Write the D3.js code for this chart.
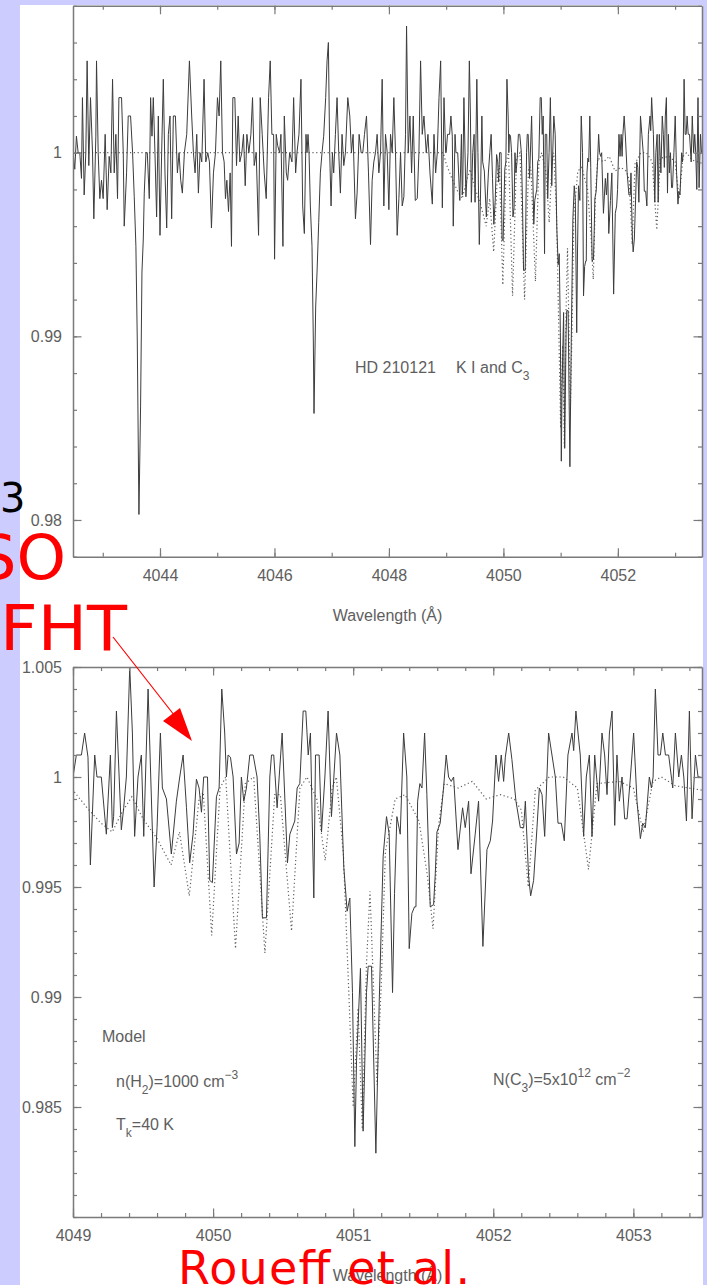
<!DOCTYPE html>
<html>
<head>
<meta charset="utf-8">
<script src="https://cdn.jsdelivr.net/npm/d3@7"></script>
<style>
  html, body { margin: 0; padding: 0; background: #ccccff; }
  svg { display: block; }
</style>
</head>
<body>
<svg id="fig" width="707" height="1285"></svg>
<script>
// Observed spectrum of HD 210121: [wavelength (Å), normalised flux]
const observedSpectrum = [
  [4042.482,1.0000],[4042.511,0.9991],[4042.540,1.0009],[4042.570,1.0000],[4042.599,1.0000],[4042.628,0.9986],
  [4042.645,1.0030],[4042.675,0.9977],[4042.704,1.0000],[4042.727,1.0050],[4042.756,0.9993],[4042.786,1.0030],
  [4042.821,1.0000],[4042.844,0.9964],[4042.879,1.0009],[4042.891,1.0050],[4042.920,1.0000],[4042.949,0.9975],
  [4042.978,0.9985],[4043.007,0.9975],[4043.042,1.0010],[4043.077,0.9969],[4043.112,0.9998],[4043.142,0.9989],
  [4043.171,1.0040],[4043.200,0.9989],[4043.229,1.0010],[4043.258,0.9975],[4043.282,1.0030],[4043.328,1.0030],
  [4043.358,1.0000],[4043.375,0.9960],[4043.416,0.9989],[4043.445,1.0020],[4043.486,1.0020],[4043.521,1.0000],
  [4043.550,0.9976],[4043.579,0.9949],[4043.603,0.9898],[4043.632,0.9803],[4043.661,0.9862],[4043.685,0.9935],
  [4043.708,0.9953],[4043.725,0.9978],[4043.755,1.0000],[4043.778,1.0000],[4043.813,0.9975],[4043.836,1.0030],
  [4043.860,1.0009],[4043.883,1.0030],[4043.912,1.0000],[4043.941,0.9965],[4043.971,1.0020],[4044.000,0.9955],
  [4044.029,1.0000],[4044.058,1.0040],[4044.087,0.9989],[4044.117,0.9959],[4044.146,1.0010],[4044.175,1.0020],
  [4044.204,0.9964],[4044.233,1.0020],[4044.269,1.0020],[4044.304,0.9989],[4044.333,1.0000],[4044.362,0.9985],
  [4044.391,0.9978],[4044.426,1.0000],[4044.467,1.0010],[4044.514,1.0050],[4044.554,1.0020],[4044.584,1.0000],
  [4044.613,0.9989],[4044.642,1.0010],[4044.671,0.9978],[4044.700,1.0000],[4044.730,0.9995],[4044.770,1.0040],
  [4044.800,0.9995],[4044.835,1.0000],[4044.864,0.9995],[4044.899,0.9959],[4044.934,0.9989],[4044.969,1.0000],
  [4045.004,1.0030],[4045.033,1.0020],[4045.062,1.0050],[4045.092,1.0000],[4045.121,0.9995],[4045.144,0.9975],
  [4045.168,0.9985],[4045.197,0.9968],[4045.226,0.9989],[4045.249,0.9949],[4045.273,1.0030],[4045.308,1.0030],
  [4045.337,0.9993],[4045.366,1.0020],[4045.395,0.9995],[4045.430,1.0000],[4045.459,1.0010],[4045.489,0.9982],
  [4045.518,1.0010],[4045.553,1.0000],[4045.588,1.0010],[4045.617,1.0030],[4045.646,0.9993],[4045.681,1.0000],
  [4045.722,0.9955],[4045.751,1.0030],[4045.786,1.0010],[4045.821,0.9989],[4045.856,0.9975],[4045.897,1.0030],
  [4045.926,1.0050],[4045.955,1.0010],[4045.985,1.0010],[4046.002,0.9942],[4046.031,1.0010],[4046.055,1.0004],
  [4046.090,1.0000],[4046.113,1.0010],[4046.148,0.9949],[4046.172,1.0020],[4046.207,0.9989],[4046.230,0.9985],
  [4046.265,1.0000],[4046.306,0.9995],[4046.335,1.0030],[4046.370,0.9989],[4046.393,1.0000],[4046.428,1.0010],
  [4046.463,1.0040],[4046.493,0.9971],[4046.522,0.9956],[4046.551,1.0010],[4046.569,1.0000],[4046.586,1.0010],
  [4046.604,1.0000],[4046.627,0.9971],[4046.656,0.9949],[4046.679,0.9898],[4046.691,0.9858],[4046.720,0.9916],
  [4046.744,0.9935],[4046.773,0.9962],[4046.802,0.9989],[4046.831,1.0000],[4046.860,1.0009],[4046.895,1.0030],
  [4046.919,1.0050],[4046.942,1.0060],[4046.965,1.0000],[4046.989,0.9971],[4047.012,1.0000],[4047.035,0.9989],
  [4047.065,1.0010],[4047.094,1.0030],[4047.123,1.0000],[4047.152,0.9978],[4047.181,1.0010],[4047.211,0.9993],
  [4047.240,1.0000],[4047.281,1.0030],[4047.316,1.0020],[4047.345,1.0000],[4047.374,1.0010],[4047.415,0.9964],
  [4047.444,0.9978],[4047.479,1.0010],[4047.514,1.0000],[4047.543,1.0000],[4047.573,1.0010],[4047.608,1.0020],
  [4047.643,0.9989],[4047.678,0.9950],[4047.707,0.9985],[4047.736,0.9995],[4047.765,1.0000],[4047.794,1.0010],
  [4047.824,0.9989],[4047.853,1.0000],[4047.882,1.0040],[4047.911,0.9971],[4047.940,1.0010],[4047.970,1.0000],
  [4047.999,0.9969],[4048.028,1.0010],[4048.057,1.0000],[4048.086,1.0030],[4048.115,1.0000],[4048.144,0.9955],
  [4048.174,0.9975],[4048.203,1.0000],[4048.232,0.9971],[4048.261,0.9976],[4048.290,1.0010],[4048.308,1.0069],
  [4048.337,1.0000],[4048.367,1.0020],[4048.396,0.9989],[4048.425,1.0020],[4048.460,0.9974],[4048.495,0.9975],
  [4048.524,1.0000],[4048.553,1.0050],[4048.582,1.0010],[4048.612,1.0020],[4048.652,1.0000],[4048.682,1.0010],
  [4048.717,0.9989],[4048.758,0.9972],[4048.787,1.0010],[4048.816,0.9989],[4048.845,1.0000],[4048.875,1.0030],
  [4048.904,1.0050],[4048.933,0.9970],[4048.962,1.0030],[4048.991,1.0000],
  [4049.000,1.0000],[4049.024,1.0010],[4049.060,1.0010],[4049.083,1.0020],[4049.107,1.0009],[4049.124,0.9960],
  [4049.155,1.0010],[4049.171,1.0000],[4049.202,1.0000],[4049.238,0.9974],[4049.267,1.0010],[4049.281,0.9977],
  [4049.290,0.9982],[4049.310,1.0030],[4049.345,0.9976],[4049.362,0.9986],[4049.381,1.0000],[4049.405,1.0050],
  [4049.424,1.0020],[4049.440,0.9973],[4049.464,1.0000],[4049.488,1.0010],[4049.505,0.9973],[4049.536,1.0040],
  [4049.555,1.0000],[4049.579,0.9950],[4049.600,0.9977],[4049.624,1.0020],[4049.638,0.9995],[4049.667,0.9990],
  [4049.702,0.9965],[4049.738,0.9989],[4049.762,1.0000],[4049.786,1.0010],[4049.810,0.9986],[4049.833,0.9961],
  [4049.857,0.9974],[4049.881,0.9999],[4049.900,0.9995],[4049.917,0.9984],[4049.933,1.0000],[4049.960,1.0000],
  [4049.976,0.9953],[4049.995,0.9952],[4050.024,0.9991],[4050.043,0.9995],[4050.062,1.0040],[4050.083,1.0020],
  [4050.095,1.0000],[4050.107,1.0010],[4050.124,1.0009],[4050.143,1.0000],[4050.167,0.9965],[4050.186,0.9970],
  [4050.202,1.0000],[4050.219,0.9989],[4050.238,0.9995],[4050.262,1.0010],[4050.286,1.0010],[4050.314,1.0000],
  [4050.333,0.9974],[4050.352,0.9936],[4050.381,0.9936],[4050.405,1.0000],[4050.417,1.0010],[4050.433,1.0010],
  [4050.457,0.9986],[4050.493,1.0020],[4050.531,0.9961],[4050.548,0.9974],[4050.583,0.9980],[4050.600,0.9995],
  [4050.619,0.9997],[4050.643,1.0030],[4050.662,1.0030],[4050.679,1.0010],[4050.695,1.0020],[4050.719,0.9945],
  [4050.731,1.0010],[4050.757,1.0010],[4050.774,0.9975],[4050.798,1.0000],[4050.821,1.0030],[4050.845,0.9982],
  [4050.881,1.0020],[4050.905,1.0010],[4050.933,0.9959],[4050.957,0.9939],[4050.976,0.9945],[4050.995,0.9902],
  [4051.012,0.9832],[4051.024,0.9871],[4051.052,0.9913],[4051.071,0.9839],[4051.095,0.9902],[4051.107,0.9914],
  [4051.131,0.9914],[4051.162,0.9829],[4051.186,0.9898],[4051.214,0.9964],[4051.238,0.9982],[4051.257,0.9974],
  [4051.281,0.9902],[4051.295,0.9947],[4051.312,0.9982],[4051.336,0.9974],[4051.360,1.0020],[4051.383,1.0000],
  [4051.400,0.9922],[4051.419,0.9938],[4051.438,0.9941],[4051.448,0.9941],[4051.460,0.9989],[4051.476,0.9997],
  [4051.491,0.9995],[4051.510,1.0020],[4051.526,0.9992],[4051.550,0.9941],[4051.574,0.9942],[4051.586,0.9956],
  [4051.598,0.9975],[4051.621,0.9979],[4051.645,0.9995],[4051.664,1.0010],[4051.681,1.0000],[4051.700,0.9998],
  [4051.717,1.0000],[4051.748,0.9967],[4051.781,0.9986],[4051.800,0.9977],[4051.824,0.9989],[4051.841,0.9956],
  [4051.871,0.9974],[4051.895,0.9989],[4051.926,0.9923],[4051.955,0.9967],[4051.979,0.9971],[4051.995,0.9980],
  [4052.019,1.0010],[4052.038,0.9998],[4052.057,1.0010],[4052.074,0.9998],[4052.086,1.0009],[4052.110,1.0020],
  [4052.133,1.0008],[4052.162,0.9989],[4052.193,0.9977],[4052.217,0.9977],[4052.229,0.9989],[4052.252,0.9955],
  [4052.267,0.9946],[4052.288,0.9953],[4052.312,0.9977],[4052.329,0.9995],[4052.348,0.9992],[4052.367,0.9973],
  [4052.395,1.0020],[4052.419,1.0010],[4052.443,1.0000],[4052.462,0.9979],[4052.486,0.9979],[4052.507,0.9971],
  [4052.533,1.0010],[4052.562,1.0020],[4052.574,1.0012],[4052.590,1.0030],[4052.605,1.0020],[4052.621,1.0010],
  [4052.645,0.9973],[4052.664,1.0000],[4052.686,1.0010],[4052.705,0.9973],[4052.724,1.0010],[4052.752,0.9989],
  [4052.776,1.0020],[4052.795,1.0010],[4052.812,0.9992],[4052.829,1.0020],[4052.848,1.0030],[4052.867,0.9978],
  [4052.883,1.0010],[4052.900,0.9989],[4052.919,1.0000],[4052.938,0.9981],[4052.955,0.9981],[4052.979,1.0000],
  [4053.002,1.0020],[4053.026,0.9989],[4053.050,0.9972],[4053.067,0.9979],[4053.086,0.9977],[4053.114,1.0000],
  [4053.129,0.9995],[4053.141,1.0000],[4053.157,1.0040],[4053.176,1.0010],[4053.193,1.0010],[4053.210,1.0020],
  [4053.229,1.0010],[4053.252,1.0010],[4053.281,0.9995],[4053.300,1.0020],[4053.324,1.0000],[4053.343,1.0010],
  [4053.360,1.0000],[4053.379,0.9980],[4053.400,1.0030],[4053.419,0.9981],[4053.443,1.0010],[4053.462,1.0000],
  [4053.479,1.0000]
];

// C3 model spectrum, n(H2)=1000 cm^-3, Tk=40 K, N(C3)=5e12 cm^-2: [wavelength (Å), flux]
const modelSpectrum = [
  [4042.48,1.0000],[4048.95,1.0000],[4049.00,0.9994],[4049.10,0.9986],[4049.20,0.9979],[4049.28,0.9975],
  [4049.35,0.9984],[4049.42,0.9991],[4049.50,0.9981],[4049.60,0.9972],[4049.70,0.9960],[4049.76,0.9975],
  [4049.83,0.9946],[4049.90,0.9990],[4049.93,0.9993],[4049.99,0.9928],[4050.05,0.9995],[4050.09,1.0000],
  [4050.16,0.9922],[4050.23,0.9997],[4050.29,1.0000],[4050.37,0.9920],[4050.44,0.9992],[4050.48,0.9992],
  [4050.56,0.9930],[4050.62,0.9995],[4050.67,1.0000],[4050.74,0.9990],[4050.80,0.9962],[4050.85,0.9995],
  [4050.88,1.0000],[4050.93,0.9965],[4050.97,0.9900],[4051.00,0.9850],[4051.035,0.9895],[4051.065,0.9840],
  [4051.095,0.9915],[4051.12,0.9948],[4051.145,0.9905],[4051.17,0.9860],[4051.20,0.9905],[4051.23,0.9966],
  [4051.30,0.9990],[4051.37,0.9992],[4051.47,0.9980],[4051.53,0.9955],[4051.57,0.9931],[4051.61,0.9978],
  [4051.65,0.9997],[4051.75,0.9995],[4051.85,0.9998],[4051.95,0.9990],[4052.05,0.9992],[4052.15,0.9990],
  [4052.20,0.9985],[4052.25,0.9950],[4052.30,0.9994],[4052.40,1.0000],[4052.50,1.0000],[4052.60,0.9995],
  [4052.68,0.9958],[4052.74,0.9997],[4052.90,0.9998],[4053.00,0.9995],[4053.07,0.9975],[4053.14,0.9998],
  [4053.20,1.0000],[4053.30,0.9996],[4053.49,0.9994]
];

// Axis ticks
const overviewXTicks = [4044, 4046, 4048, 4050, 4052];
const overviewYTicks = [0.98, 0.99, 1];
const detailXTicks = [4049, 4050, 4051, 4052, 4053];
const detailYTicks = [0.985, 0.99, 0.995, 1, 1.005];

const svg = d3.select("#fig");
const W = 707, H = 1285;
const AXIS = "#7a7a7a", INK = "#5e5e5e", TRACE = "#3c3c3c";
const LABEL_FONT = "'Liberation Sans', Arial, sans-serif";

svg.append("rect").attr("width", W).attr("height", H).attr("fill", "#ccccff");
svg.append("rect").attr("x", 20).attr("y", 5).attr("width", 683).attr("height", H - 5).attr("fill", "#ffffff");

function drawPanel(opts) {
  const x = d3.scaleLinear().domain(opts.xDomain).range([73, 702]);
  const y = d3.scaleLinear().domain(opts.yDomain).range(opts.yRange);
  const g = svg.append("g");

  g.append("clipPath").attr("id", opts.id + "-clip")
    .append("rect").attr("x", 73).attr("y", opts.yRange[1])
    .attr("width", 629).attr("height", opts.yRange[0] - opts.yRange[1]);

  const line = d3.line().x(d => x(d[0])).y(d => y(d[1]));
  const plot = g.append("g").attr("clip-path", `url(#${opts.id}-clip)`);

  plot.append("path").datum(modelSpectrum)
    .attr("d", line).attr("fill", "none")
    .attr("stroke", "#606060").attr("stroke-width", 1.2)
    .attr("stroke-dasharray", "1.2,2.6");

  plot.append("path").datum(observedSpectrum)
    .attr("d", line).attr("fill", "none")
    .attr("stroke", TRACE).attr("stroke-width", 1)
    .attr("stroke-linejoin", "miter");

  const yb = opts.yRange[0], yt = opts.yRange[1];
  const axes = [
    { t: `translate(0,${yb})`, major: opts.xMajor, minor: opts.xMinor, labels: true, fmt: d3.format("d"), pad: 13 },
    { t: `translate(0,${yt})`, major: opts.xMajor, minor: opts.xMinor, labels: false },
    { t: `translate(73,0)`, major: opts.yMajor, minor: opts.yMinor, labels: true, fmt: d => String(d), pad: 11 },
    { t: `translate(702,0)`, major: opts.yMajor, minor: opts.yMinor, labels: false }
  ];
  const axisMaker = {
    bottom: () => d3.axisBottom(x), top: () => d3.axisTop(x),
    left: () => d3.axisLeft(y), right: () => d3.axisRight(y)
  };
  ["bottom", "top", "left", "right"].forEach((side, i) => {
    const a = axes[i];
    g.append("g").attr("transform", a.t)
      .call(axisMaker[side]().tickValues(a.minor).tickSize(-4).tickSizeOuter(0).tickFormat(""))
      .call(s => s.select(".domain").remove());
    const major = g.append("g").attr("transform", a.t)
      .call(axisMaker[side]().tickValues(a.major).tickSize(-8.5).tickSizeOuter(0)
        .tickPadding(a.pad || 3).tickFormat(a.labels ? a.fmt : ""));
    major.attr("font-family", LABEL_FONT).attr("font-size", 16);
    major.selectAll("text").attr("fill", INK);
    g.selectAll(".tick line").attr("stroke", AXIS).attr("stroke-width", 1.2);
    major.select(".domain").attr("stroke", AXIS).attr("stroke-width", 1.5);
  });

  g.append("text")
    .attr("x", (73 + 702) / 2).attr("y", yb + opts.titleOffset)
    .attr("text-anchor", "middle").attr("font-family", LABEL_FONT)
    .attr("font-size", 16).attr("fill", INK)
    .text("Wavelength (Å)");
  return { x, y, g };
}

const step = (a, b, s) => d3.range(Math.round((b - a) / s) + 1).map(i => +(a + i * s).toFixed(4));

drawPanel({
  id: "overview",
  xDomain: [4042.48, 4053.47], yDomain: [0.978, 1.008], yRange: [556.7, 5.8],
  xMajor: overviewXTicks, xMinor: step(4043, 4053, 1),
  yMajor: overviewYTicks, yMinor: step(0.978, 1.008, 0.002),
  titleOffset: 64
});

drawPanel({
  id: "detail",
  xDomain: [4049, 4053.49], yDomain: [0.98, 1.005], yRange: [1217, 667],
  xMajor: detailXTicks, xMinor: step(4049, 4053.4, 0.2),
  yMajor: detailYTicks, yMinor: step(0.98, 1.005, 0.001),
  titleOffset: 64
});

// In-plot annotations
function label(x, y, parts, anchor) {
  const t = svg.append("text").attr("x", x).attr("y", y)
    .attr("font-family", LABEL_FONT).attr("font-size", 16).attr("fill", INK)
    .attr("text-anchor", anchor || "start");
  parts.forEach(p => {
    const s = t.append("tspan").text(p.t);
    if (p.sub) s.attr("font-size", 12).attr("dy", 7);
    if (p.sup) s.attr("font-size", 12).attr("dy", -8);
    if (p.back) s.attr("dy", p.back);
  });
  return t;
}

label(355, 373, [{ t: "HD 210121" }]);
label(456, 373, [{ t: "K I and C" }, { t: "3", sub: true }]);
label(102, 1042, [{ t: "Model" }]);
label(116, 1087, [{ t: "n(H" }, { t: "2", sub: true }, { t: ")=1000 cm", back: -7 }, { t: "−3", sup: true }]);
label(116, 1130, [{ t: "T" }, { t: "k", sub: true }, { t: "=40 K", back: -7 }]);
label(493, 1085, [{ t: "N(C" }, { t: "3", sub: true }, { t: ")=5x10", back: -7 }, { t: "12", sup: true }, { t: " cm", back: 8 }, { t: "−2", sup: true }]);

// Slide overlays
const RED = "#ff0000";
const SLIDE_FONT = "'DejaVu Sans', Verdana, sans-serif";
svg.append("text").attr("x", 0).attr("y", 512).attr("font-family", SLIDE_FONT)
  .attr("font-size", 40).attr("fill", "#000").text("3");
svg.append("text").attr("x", 66).attr("y", 579).attr("text-anchor", "end")
  .attr("font-family", SLIDE_FONT).attr("font-size", 63).attr("fill", RED).text("SO");
svg.append("text").attr("x", 0).attr("y", 650)
  .attr("font-family", SLIDE_FONT).attr("font-size", 63).attr("fill", RED)
  .attr("textLength", 127).attr("lengthAdjust", "spacingAndGlyphs").text("FHT");

svg.append("line").attr("x1", 113).attr("y1", 637).attr("x2", 178).attr("y2", 720)
  .attr("stroke", RED).attr("stroke-width", 1.2);
svg.append("polygon").attr("points", "163,721 180,708 192,741").attr("fill", RED);

svg.append("text").attr("x", 178).attr("y", 1284)
  .attr("font-family", SLIDE_FONT).attr("font-size", 46).attr("fill", RED)
  .attr("textLength", 292).attr("lengthAdjust", "spacing")
  .text("Roueff et al.");
</script>
</body>
</html>
